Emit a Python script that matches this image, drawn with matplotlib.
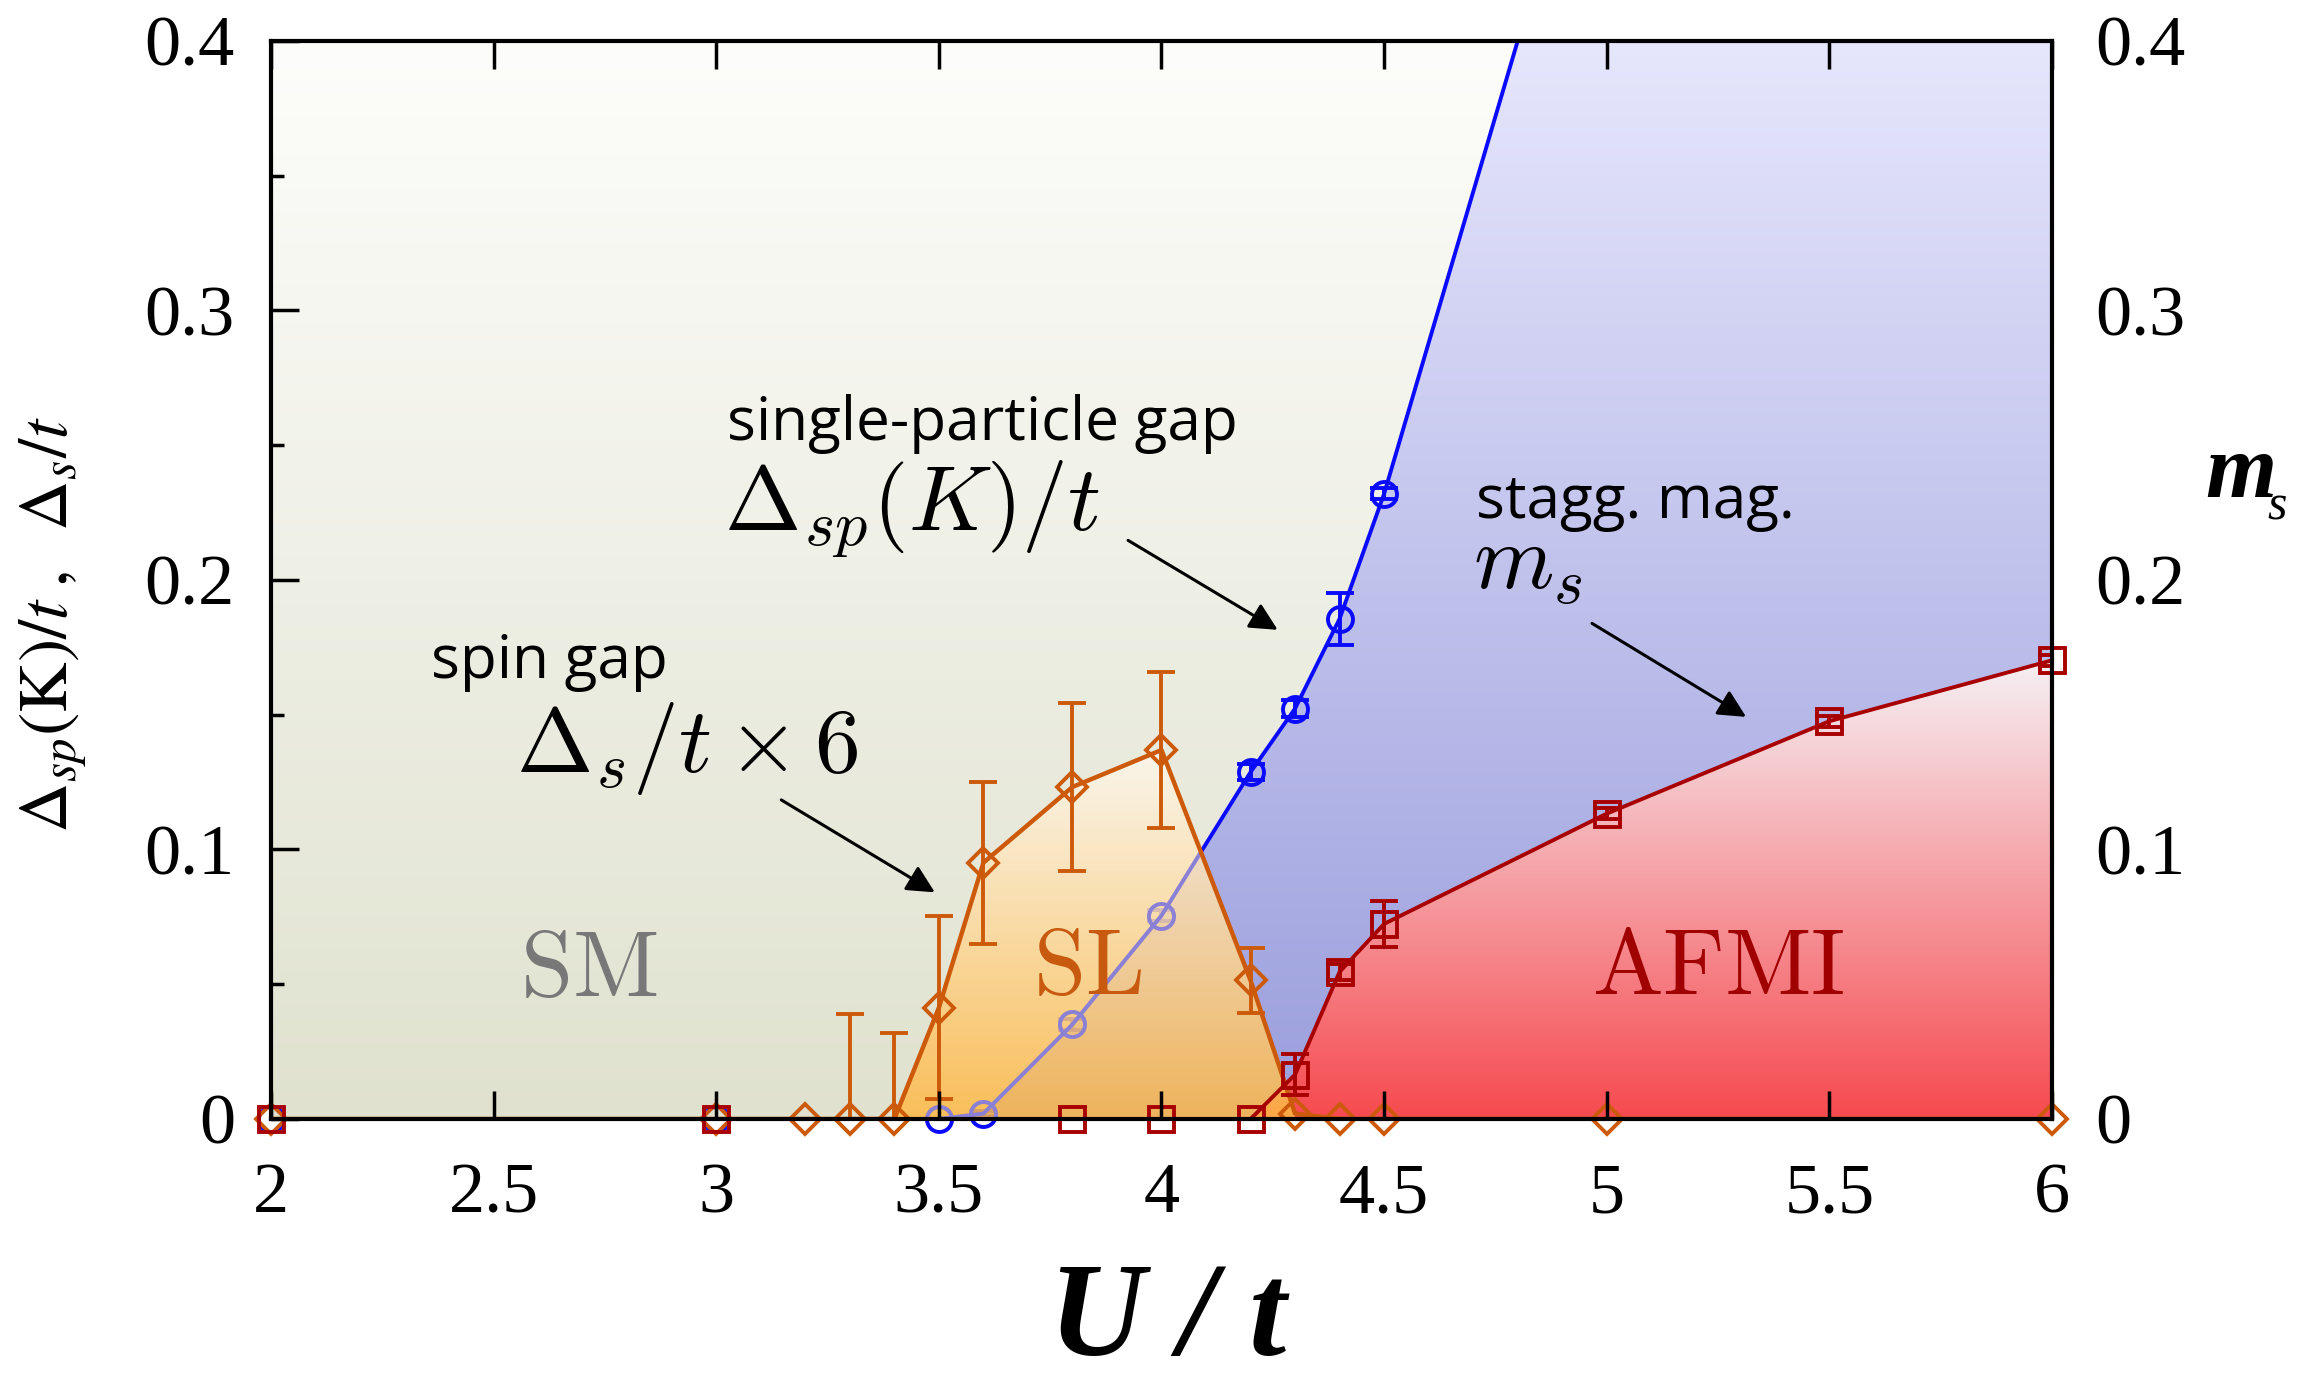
import numpy as np
import matplotlib
matplotlib.use("Agg")
import matplotlib.pyplot as plt
from matplotlib.patches import Polygon
from matplotlib.colors import to_rgb

# single-particle gap Delta_sp(K)/t
U_sp = [2.0, 3.0, 3.5, 3.6, 3.8, 4.0, 4.2, 4.3, 4.4, 4.5, 5.0]
gap_sp = [0.0, 0.0, 0.0, 0.002, 0.0351, 0.0755, 0.1287, 0.1523, 0.1856, 0.232, 0.512]
err_sp = [0.0, 0.0, 0.0, 0.001, 0.002, 0.002, 0.003, 0.003, 0.0096, 0.002, 0.0]

# spin gap Delta_s/t, multiplied by 6
U_s = [2.0, 3.0, 3.2, 3.3, 3.4, 3.5, 3.6, 3.8, 4.0, 4.2, 4.3, 4.4, 4.5, 5.0, 6.0]
gap_s6 = [0.0, 0.0, 0.0, 0.0, 0.0, 0.0413, 0.0951, 0.1232, 0.1369, 0.0514, 0.002,
          0.0, 0.0, 0.0, 0.0]
err_s6 = [0.0, 0.0, 0.0, 0.039, 0.032, 0.034, 0.030, 0.031, 0.029, 0.012, 0.0,
          0.0, 0.0, 0.0, 0.0]

# staggered magnetisation m_s
U_m = [2.0, 3.0, 3.8, 4.0, 4.2, 4.3, 4.4, 4.5, 5.0, 5.5, 6.0]
m_s = [0.0, 0.0, 0.0, 0.0, 0.0, 0.0165, 0.0546, 0.0724, 0.1133, 0.1476, 0.1702]
err_m = [0.0, 0.0, 0.0, 0.0, 0.0, 0.0075, 0.003, 0.0085, 0.002, 0.002, 0.002]

x_ticks = [2, 2.5, 3, 3.5, 4, 4.5, 5, 5.5, 6]
x_labels = ["2", "2.5", "3", "3.5", "4", "4.5", "5", "5.5", "6"]
y_ticks = [0, 0.1, 0.2, 0.3, 0.4]
y_labels = ["0", "0.1", "0.2", "0.3", "0.4"]

c_blue = "#0a0aff"
c_orange = "#cc5a0a"
c_red = "#a80000"
serif = "Liberation Serif"

xmin, xmax, ymin, ymax = 2.0, 6.0, 0.0, 0.4


def gradient_fill(ax, verts, extent, c_top, c_bot, zorder, alpha=1.0):
    """vertical colour gradient clipped to a polygon"""
    poly = Polygon(verts, closed=True, facecolor="none", edgecolor="none",
                   transform=ax.transData)
    ax.add_patch(poly)
    t = np.linspace(0, 1, 256)[:, None, None]
    top = np.array(to_rgb(c_top))[None, None, :]
    bot = np.array(to_rgb(c_bot))[None, None, :]
    img = bot + (top - bot) * t
    im = ax.imshow(img, extent=extent, origin="lower", aspect="auto",
                   interpolation="bilinear", zorder=zorder, alpha=alpha)
    im.set_clip_path(poly)
    return poly


def draw_series(ax, U, val, err, color, marker, ms, lw, z):
    U = np.asarray(U)
    val = np.asarray(val)
    err = np.asarray(err)
    ax.plot(U, val, "-", color=color, lw=lw, zorder=z)
    e = err > 0
    ax.errorbar(U[e], val[e], yerr=err[e], fmt="none", ecolor=color,
                elinewidth=2.8, capsize=10, capthick=2.8, zorder=z)
    m = val <= ymax
    ax.plot(U[m], val[m], ls="none", marker=marker, ms=ms, mfc="none",
            mec=color, mew=2.8, zorder=z + 0.1, clip_on=False)


fig = plt.figure(figsize=(23.21, 13.73), dpi=100)
ax = fig.add_axes([0.11676, 0.185, 0.76734, 0.78514])

# SM background
gradient_fill(ax, [(xmin, ymin), (xmax, ymin), (xmax, ymax), (xmin, ymax)],
              (xmin, xmax, ymin, ymax), "#fdfdfb", "#e0e2cf", 0.1)

# gapped region right of the single-particle gap
blue_verts = [(u, g) for u, g in zip(U_sp, gap_sp) if u >= 3.5]
blue_verts += [(U_sp[-1], 1.0), (xmax, 1.0), (xmax, 0.0)]
gradient_fill(ax, blue_verts, (xmin, xmax, ymin, ymax), "#e6e6fc", "#9a9edc", 0.3)

# magnetically ordered region
red_verts = [(u, m) for u, m in zip(U_m, m_s) if u >= 4.2] + [(xmax, 0.0)]
gradient_fill(ax, red_verts, (4.2, xmax, 0.0, max(m_s)), "#f6f0f4", "#f54a4f", 0.6)

# spin liquid region
sl_verts = [(u, g) for u, g in zip(U_s, gap_s6) if 3.4 <= u <= 4.3] + [(4.3, 0.0)]
sl_poly = gradient_fill(ax, sl_verts, (3.4, 4.3, 0.0, max(gap_s6)),
                        "#fdf8ef", "#ffb844", 0.8, alpha=0.85)

draw_series(ax, U_sp, gap_sp, err_sp, c_blue, "o", 18, 2.8, 0.4)
# single-particle gap seen through the spin liquid shading
ln, = ax.plot(U_sp, gap_sp, "-o", color="#8a80d6", lw=2.8, ms=18, mfc="none",
              mew=2.8, zorder=0.9)
ln.set_clip_path(sl_poly)

draw_series(ax, U_s, gap_s6, err_s6, c_orange, "D", 15, 3.2, 4)
draw_series(ax, U_m, m_s, err_m, c_red, "s", 18, 2.8, 5)

ax.set_xlim(xmin, xmax)
ax.set_ylim(ymin, ymax)

for sp in ax.spines.values():
    sp.set_linewidth(3)
    sp.set_zorder(10)
ax.xaxis.set_zorder(10)
ax.yaxis.set_zorder(10)

ax.set_xticks(x_ticks)
ax.set_xticklabels(x_labels)
ax.set_yticks(y_ticks)
ax.set_yticklabels(y_labels)
ax.set_yticks(np.arange(0.05, 0.4, 0.1), minor=True)
ax.tick_params(axis="both", which="major", direction="in", length=20, width=2.5,
               top=True, right=True, labelsize=52)
ax.tick_params(axis="y", which="minor", direction="in", length=9, width=2.5,
               left=True, right=True)
ax.tick_params(axis="x", pad=31)
ax.tick_params(axis="y", pad=26)
for lab in ax.get_xticklabels() + ax.get_yticklabels():
    lab.set_fontfamily(serif)

# right-hand axis labels
ax2 = ax.twinx()
ax2.set_ylim(ymin, ymax)
ax2.set_yticks(y_ticks)
ax2.set_yticklabels(y_labels, fontfamily=serif, fontsize=52)
ax2.tick_params(axis="y", which="both", length=0, pad=31)
for sp in ax2.spines.values():
    sp.set_visible(False)

# axis titles
fig.text(0.5032, 0.013, "U / t", fontfamily=serif, style="italic", weight="bold",
         fontsize=96, ha="center", va="baseline")
fig.text(0.0228, 0.5455, r"$\Delta_{sp}(\mathrm{K})/t\;,\;\;\Delta_s/t$",
         math_fontfamily="stix", fontsize=50, rotation=90, ha="center", va="center")
fig.text(0.950, 0.638, "m", fontfamily=serif, style="italic", weight="bold",
         fontsize=66, ha="left", va="baseline")
fig.text(0.977, 0.6213, "s", fontfamily=serif, style="italic",
         fontsize=36, ha="left", va="baseline")

# annotations
sans = "Open Sans"
ax.text(3.024, 0.2519, "single-particle gap", fontfamily=sans, fontsize=43.5,
        ha="left", va="baseline", zorder=12)
ax.text(3.017, 0.2186, r"$\Delta_{sp}(K)/t$", math_fontfamily="cm", fontsize=66,
        ha="left", va="baseline", zorder=12)
ax.text(4.706, 0.2230, "stagg. mag.", fontfamily=sans, fontsize=43.5,
        ha="left", va="baseline", zorder=12)
ax.text(4.700, 0.1967, r"$m_s$", math_fontfamily="cm", fontsize=66,
        ha="left", va="baseline", zorder=12)
ax.text(2.359, 0.1636, "spin gap", fontfamily=sans, fontsize=43.5,
        ha="left", va="baseline", zorder=12)
ax.text(2.550, 0.1288, r"$\Delta_s/t\times 6$", math_fontfamily="cm", fontsize=66,
        ha="left", va="baseline", zorder=12)

arrow = dict(arrowstyle="-|>", color="black", lw=2.2, mutation_scale=42,
             shrinkA=0, shrinkB=0)
ax.annotate("", xy=(4.261, 0.1815), xytext=(3.925, 0.2147), arrowprops=arrow, zorder=12)
ax.annotate("", xy=(3.491, 0.0841), xytext=(3.146, 0.1184), arrowprops=arrow, zorder=12)
ax.annotate("", xy=(5.313, 0.1492), xytext=(4.967, 0.1839), arrowprops=arrow, zorder=12)

# phase labels
ax.text(2.714, 0.0456, r"$\mathrm{SM}$", math_fontfamily="cm", fontsize=68,
        color="#787878", ha="center", va="baseline", zorder=12)
ax.text(3.835, 0.0464, r"$\mathrm{SL}$", math_fontfamily="cm", fontsize=68,
        color="#c85a10", ha="center", va="baseline", zorder=12)
ax.text(5.250, 0.0464, r"$\mathrm{AFMI}$", math_fontfamily="cm", fontsize=68,
        color="#a00000", ha="center", va="baseline", zorder=12)

fig.savefig("out.png", dpi=100)
